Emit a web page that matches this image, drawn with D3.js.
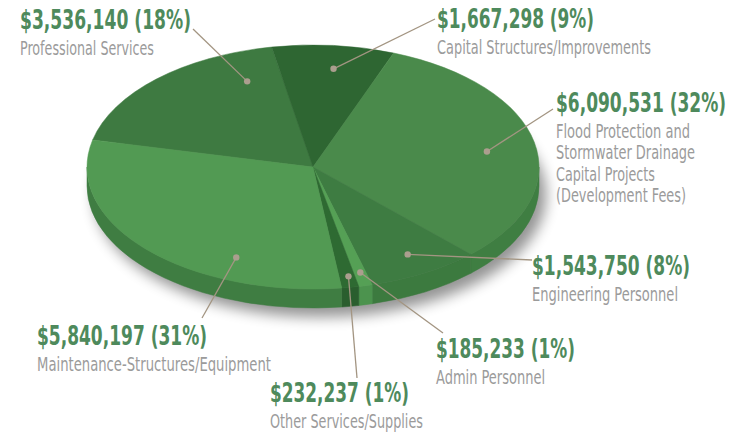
<!DOCTYPE html>
<html>
<head>
<meta charset="utf-8">
<script src="https://cdn.jsdelivr.net/npm/d3@7"></script>
<style>
  html, body { margin: 0; padding: 0; background: #fff; }
  svg { display: block; }
</style>
</head>
<body>
<div id="chart"></div>
<script>
// data, clockwise starting from Professional Services
const nameLines = [
  ["Professional Services"],
  ["Capital Structures/Improvements"],
  ["Flood Protection and", "Stormwater Drainage", "Capital Projects", "(Development Fees)"],
  ["Engineering Personnel"],
  ["Admin Personnel"],
  ["Other Services/Supplies"],
  ["Maintenance-Structures/Equipment"]
];
const amounts = [3536140, 1667298, 6090531, 1543750, 185233, 232237, 5840197];
const percents = [18, 9, 32, 8, 1, 1, 31];

const topColors  = ["#3e7a41", "#2e6632", "#4a8a4b", "#3e7c42", "#55a055", "#2e6a32", "#529a53"];
const sideColors = ["#356c38", "#285a2c", "#3f7e42", "#3c7a3f", "#4c934e", "#2a5e2e", "#3f7d42"];

// label placement: value text x / baseline, leader end, dot inside slice (t along slice, r radius),
// text widths (condensed face is not installed, so widths are fitted)
const labelLayout = [
  { x: 20,  y: 29,  lx: 193, ly: 29,  t: 0.82, r: 0.76,  vw: 171, nw: [134] },
  { x: 437, y: 28,  lx: 435, ly: 19,  t: 0.54, r: 0.81,  vw: 157, nw: [214] },
  { x: 556, y: 112, lx: 553, ly: 109, t: 0.52, r: 0.78,  vw: 170, nw: [134, 139, 99, 130] },
  { x: 532, y: 275, lx: 532, ly: 260, t: 0.48, r: 0.83,  vw: 158, nw: [146] },
  { x: 436, y: 358, lx: 443, ly: 333, t: 0.45, r: 0.89,  vw: 139, nw: [109] },
  { x: 270, y: 402, lx: 357, ly: 378, t: 0.40, r: 0.91,  vw: 139, nw: [153] },
  { x: 37,  y: 345, lx: 202, ly: 318, t: 0.29, r: 0.815, vw: 170, nw: [234] }
];

const width = 742;
const height = 436;
const cx = 313, cy = 167, rx = 226, ry = 122, depth = 19;
const startDeg = -77.2;
const font = "'Liberation Sans Narrow', 'DejaVu Sans Condensed', 'Arial Narrow', sans-serif";

const svg = d3.select("#chart").append("svg")
  .attr("width", width)
  .attr("height", height);

const defs = svg.append("defs");
defs.append("filter")
  .attr("id", "blur")
  .attr("x", "-20%").attr("y", "-20%")
  .attr("width", "140%").attr("height", "140%")
  .append("feGaussianBlur")
  .attr("stdDeviation", 7);

const pie = d3.pie()
  .sort(null)
  .value(d => d)
  .startAngle(startDeg * Math.PI / 180)
  .endAngle(startDeg * Math.PI / 180 + 2 * Math.PI);

const arcs = pie(amounts);

// point on the ellipse (angle clockwise from 12 o'clock)
const pt = (a, r = 1, dy = 0) => [cx + rx * r * Math.sin(a), cy - ry * r * Math.cos(a) + dy];

// shadow
svg.append("ellipse")
  .attr("cx", cx + 7)
  .attr("cy", cy + depth + 9)
  .attr("rx", rx)
  .attr("ry", ry)
  .attr("fill", "#000")
  .attr("opacity", 0.42)
  .attr("filter", "url(#blur)");

// sides (only the front half is visible)
const sides = arcs.map((a, i) => {
  const a0 = Math.max(a.startAngle, Math.PI / 2);
  const a1 = Math.min(a.endAngle, 3 * Math.PI / 2);
  return { a0, a1, i };
}).filter(d => d.a1 > d.a0);

svg.append("g").selectAll("path")
  .data(sides)
  .join("path")
  .attr("d", d => {
    const p0 = pt(d.a0), p1 = pt(d.a1);
    const q0 = pt(d.a0, 1, depth), q1 = pt(d.a1, 1, depth);
    return `M${p0}A${rx},${ry} 0 0 1 ${p1}L${q1}A${rx},${ry} 0 0 0 ${q0}Z`;
  })
  .attr("fill", d => sideColors[d.i])
  .attr("stroke", d => sideColors[d.i])
  .attr("stroke-width", 0.5);

// top faces
svg.append("g").selectAll("path")
  .data(arcs)
  .join("path")
  .attr("d", a => {
    const p0 = pt(a.startAngle), p1 = pt(a.endAngle);
    const large = a.endAngle - a.startAngle > Math.PI ? 1 : 0;
    return `M${cx},${cy}L${p0}A${rx},${ry} 0 ${large} 1 ${p1}Z`;
  })
  .attr("fill", (a, i) => topColors[i])
  .attr("stroke", (a, i) => topColors[i])
  .attr("stroke-width", 0.5);

// leaders + dots
const dots = arcs.map((a, i) => {
  const L = labelLayout[i];
  const ang = a.startAngle + L.t * (a.endAngle - a.startAngle);
  return { p: pt(ang, L.r), L };
});

svg.append("g").selectAll("line")
  .data(dots)
  .join("line")
  .attr("x1", d => d.p[0]).attr("y1", d => d.p[1])
  .attr("x2", d => d.L.lx).attr("y2", d => d.L.ly)
  .attr("stroke", "#a39582")
  .attr("stroke-width", 1.3);

svg.append("g").selectAll("circle")
  .data(dots)
  .join("circle")
  .attr("cx", d => d.p[0]).attr("cy", d => d.p[1])
  .attr("r", 3.2)
  .attr("fill", "#ab9e8e");

// labels
const fmt = d3.format(",");
const labels = svg.append("g")
  .selectAll("g")
  .data(arcs)
  .join("g")
  .attr("transform", (a, i) => `translate(${labelLayout[i].x},${labelLayout[i].y})`);

labels.append("text")
  .attr("font-family", font)
  .attr("font-weight", "bold")
  .attr("font-size", 26)
  .attr("fill", "#4e8a5c")
  .attr("textLength", (a, i) => labelLayout[i].vw)
  .attr("lengthAdjust", "spacingAndGlyphs")
  .text((a, i) => `$${fmt(amounts[i])} (${percents[i]}%)`);

labels.each(function (a, i) {
  d3.select(this).selectAll("text.name")
    .data(nameLines[i])
    .join("text")
    .attr("class", "name")
    .attr("y", (d, j) => 25.5 + j * 21.5)
    .attr("font-family", font)
    .attr("font-size", 19)
    .attr("fill", "#9b9b9b")
    .attr("textLength", (d, j) => labelLayout[i].nw[j])
    .attr("lengthAdjust", "spacingAndGlyphs")
    .text(d => d);
});
</script>
</body>
</html>
